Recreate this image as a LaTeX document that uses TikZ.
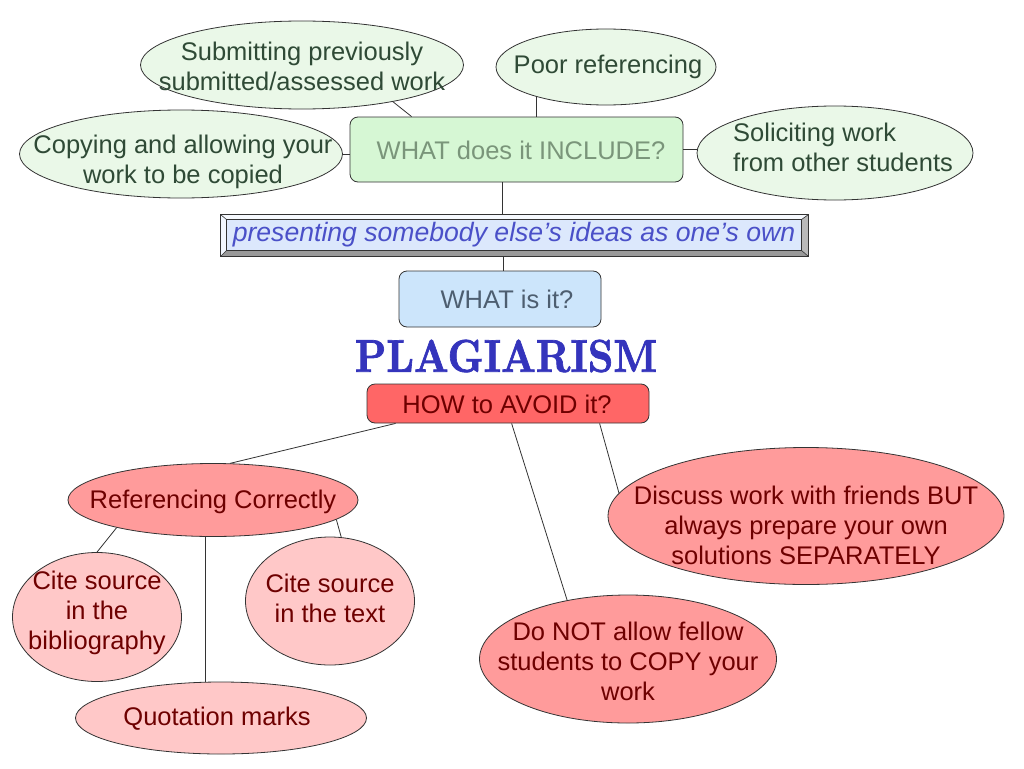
\documentclass[tikz,border=0pt]{standalone}
\usepackage{fontspec}
\setmainfont{Liberation Sans}
\newfontfamily\plagfont[Extension=.otf,FakeBold=1.6]{lmroman10-bold}
\usetikzlibrary{shapes.geometric,calc}
\definecolor{lnc}{HTML}{333333}
\definecolor{grfill}{HTML}{EAF8E8}
\definecolor{grtext}{HTML}{2F4A36}
\definecolor{incfill}{HTML}{D6F7D4}
\definecolor{inctext}{HTML}{7A957A}
\definecolor{banfill}{HTML}{DCE8FC}
\definecolor{bantext}{HTML}{4A50C8}
\definecolor{whatfill}{HTML}{CCE5FB}
\definecolor{whattext}{HTML}{4D5E70}
\definecolor{plag}{HTML}{3434BC}
\definecolor{howfill}{HTML}{FF6666}
\definecolor{redtext}{HTML}{6E0000}
\definecolor{salmon}{HTML}{FF9B9B}
\definecolor{pinkfill}{HTML}{FFC8C8}
\begin{document}
\begin{tikzpicture}[x=1pt,y=-1pt,
  every node/.style={font=\fontsize{25.5}{30}\selectfont},
  oval/.style={ellipse,draw=lnc,line width=0.8pt,inner sep=0pt},
  greenoval/.style={oval,fill=grfill},
  salmonoval/.style={oval,fill=salmon},
  pinkoval/.style={oval,fill=pinkfill},
  lbl/.style={align=center,inner sep=0pt},
  greentext/.style={lbl,text=grtext},
  redlbl/.style={lbl,text=redtext},
  rbox/.style={rectangle,rounded corners=8pt,draw=lnc,line width=0.8pt,inner sep=0pt},
  conn/.style={draw=lnc,line width=0.8pt}
]
\useasboundingbox (0,0) rectangle (1024,768);
\fill[white] (0,0) rectangle (1024,768);

% ---------- top green group ----------
\node[greenoval,minimum width=323pt,minimum height=88pt] (sub) at (302,65) {};
\node[greentext] (subt) at (302,66) {Submitting previously\\submitted/assessed work};

\node[greenoval,minimum width=323pt,minimum height=88pt] (copy) at (181,154) {};
\node[greentext] (copyt) at (183,162) {Copying and allowing your\\work to be copied};

\node[greenoval,minimum width=220pt,minimum height=76pt] (poor) at (606,67) {};
\node[greentext] (poort) at (608,67) {Poor referencing};

\node[greenoval,minimum width=276pt,minimum height=94pt] (sol) at (835,153) {};
\node[greentext,align=left,anchor=west] (solt) at (733,147) {Soliciting work\\from other students};

\node[rbox,fill=incfill,minimum width=333pt,minimum height=65pt] (inc) at (516.5,149.5) {};
\node[lbl,text=inctext] (inct) at (521,150) {WHAT does it INCLUDE?};

% ---------- banner ----------
\node[rectangle,draw=lnc,line width=0.8pt,fill=banfill,minimum width=587pt,minimum height=41pt,inner sep=0pt] (banner) at (514.5,235.5) {};
\coordinate (bnw) at ($(banner.north west)+(6,5)$);
\coordinate (bne) at ($(banner.north east)+(-7,5)$);
\coordinate (bsw) at ($(banner.south west)+(6,-6)$);
\coordinate (bse) at ($(banner.south east)+(-7,-6)$);
\fill[color=white!75!banfill] (banner.north west) -- (banner.north east) -- (bne) -- (bnw) -- cycle;
\fill[color=white!60!banfill] (banner.north west) -- (bnw) -- (bsw) -- (banner.south west) -- cycle;
\fill[color=gray!80] (banner.south west) -- (bsw) -- (bse) -- (banner.south east) -- cycle;
\fill[color=gray!55] (banner.north east) -- (banner.south east) -- (bse) -- (bne) -- cycle;
\draw[lnc,line width=0.6pt] (banner.north west) -- (bnw) (banner.north east) -- (bne)
  (banner.south west) -- (bsw) (banner.south east) -- (bse);
\draw[lnc,line width=0.6pt,fill=banfill] (bnw) rectangle (bse);
\draw[lnc,line width=0.8pt] (banner.north west) rectangle (banner.south east);
\node[lbl,text=bantext,font=\fontsize{26.6}{30}\selectfont\itshape] (bant) at (514,235) {presenting somebody else’s ideas as one’s own};

% ---------- centre ----------
\node[rbox,fill=whatfill,minimum width=202pt,minimum height=56pt] (what) at (500,299) {};
\node[lbl,text=whattext] (whatt) at (507,299) {WHAT is it?};

\node[lbl,text=plag,font=\fontsize{40}{44}\selectfont\plagfont] (plagt) at (506,356)
  {\scalebox{1}[1.15]{PLAGIARISM}};

\node[rbox,fill=howfill,minimum width=282pt,minimum height=39pt] (how) at (508,403.5) {};
\node[lbl,text=redtext] (howt) at (507,404) {HOW to AVOID it?};

% ---------- bottom red group ----------
\node[salmonoval,minimum width=290pt,minimum height=73pt] (ref) at (213,500) {};
\node[redlbl] (reft) at (213,502) {Referencing Correctly};

\node[pinkoval,minimum width=169pt,minimum height=129pt] (bib) at (97,617) {};
\node[redlbl] (bibt) at (97,613) {Cite source\\in the\\bibliography};

\node[pinkoval,minimum width=169pt,minimum height=128pt] (txt) at (330,601) {};
\node[redlbl] (txtt) at (330,598) {Cite source\\in the text};

\node[pinkoval,minimum width=291pt,minimum height=72pt] (quot) at (221,718) {};
\node[redlbl] (quott) at (217,719) {Quotation marks};

\node[salmonoval,minimum width=396pt,minimum height=137pt] (disc) at (806,516) {};
\node[redlbl] (disct) at (806,525) {Discuss work with friends BUT\\always prepare your own\\solutions SEPARATELY};

\node[salmonoval,minimum width=297pt,minimum height=128pt] (donot) at (628,659) {};
\node[redlbl] (donott) at (628,661) {Do NOT allow fellow\\students to COPY your\\work};

% ---------- connectors ----------
\draw[conn] (sub.-22) -- ([xshift=62pt]inc.north west);
\draw[conn] (copy.east) -- (copy.east -| inc.west);
\draw[conn] (poor.203) -- (poor.203 |- inc.north);
\draw[conn] (inc.east) -- (inc.east -| sol.west);
\draw[conn] ([xshift=153pt]inc.south west) -- ([xshift=153pt]inc.south west |- banner.north);
\draw[conn] ([xshift=3pt]what.north) -- ([xshift=3pt]what.north |- banner.south);
\draw[conn] ([xshift=29pt]how.south west) -- (ref.65);
\draw[conn] ([xshift=145pt]how.south west) -- (donot.136);
\draw[conn] ([xshift=233pt]how.south west) -- (disc.173);
\draw[conn] (ref.196) -- (bib.north);
\draw[conn] (ref.-9) -- (txt.80);
\draw[conn] ([xshift=-8pt]ref.south) -- ([xshift=-8pt]ref.south |- quot.north);
\end{tikzpicture}
\end{document}
